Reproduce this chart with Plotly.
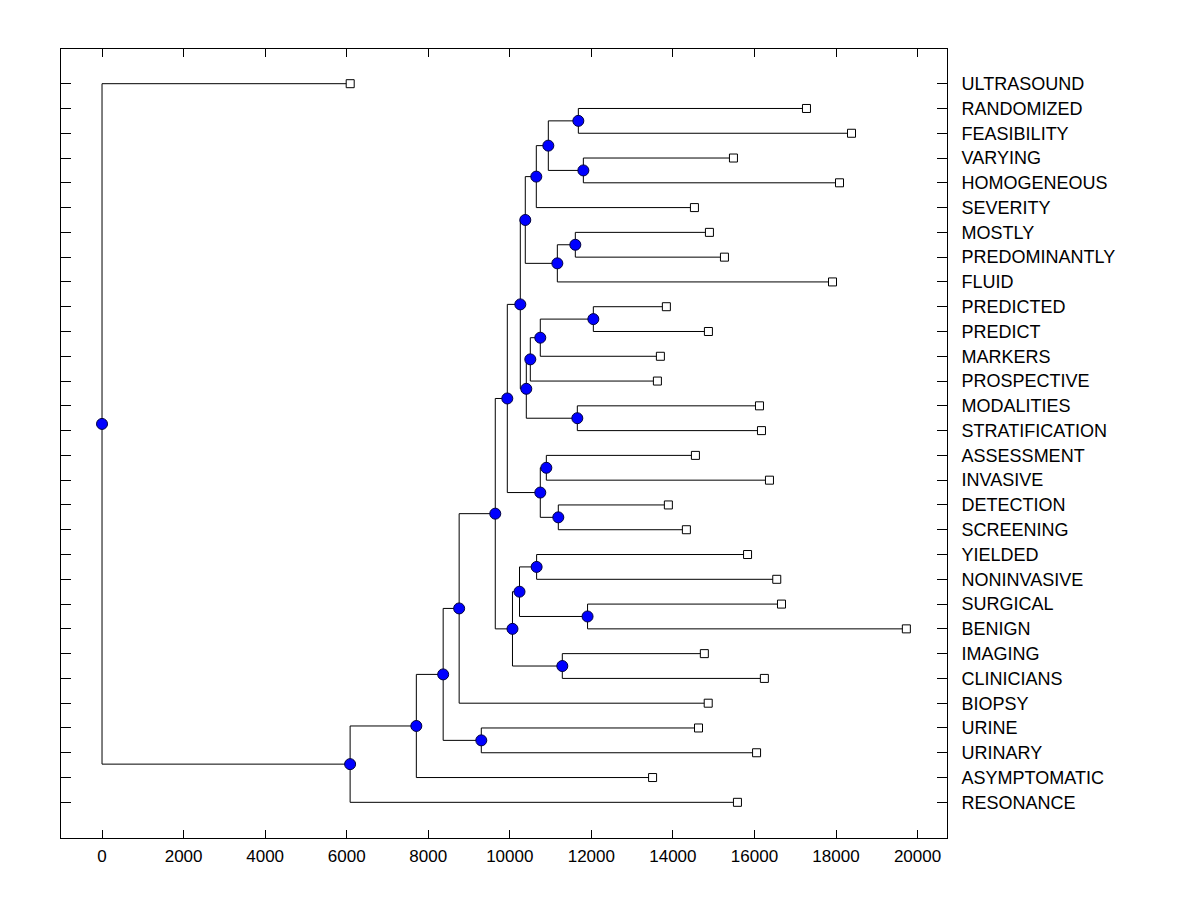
import plotly.graph_objects as go

# Leaves, top to bottom
leaf_labels = ["ULTRASOUND", "RANDOMIZED", "FEASIBILITY", "VARYING", "HOMOGENEOUS",
               "SEVERITY", "MOSTLY", "PREDOMINANTLY", "FLUID", "PREDICTED",
               "PREDICT", "MARKERS", "PROSPECTIVE", "MODALITIES", "STRATIFICATION",
               "ASSESSMENT", "INVASIVE", "DETECTION", "SCREENING", "YIELDED",
               "NONINVASIVE", "SURGICAL", "BENIGN", "IMAGING", "CLINICIANS",
               "BIOPSY", "URINE", "URINARY", "ASYMPTOMATIC", "RESONANCE"]
leaf_heights = [6086, 17276, 18380, 15485, 18086,
                14528, 14896, 15264, 17914, 13840,
                14871, 13693, 13620, 16123, 16172,
                14552, 16368, 13889, 14331, 15831,
                16547, 16663, 19725, 14771, 16243,
                14866, 14628, 16052, 13502, 15583]

# Merges: node index = 30 + position in list
merge_left = [1, 3, 30, 32, 6, 34, 33, 9, 37, 38, 13, 39, 36, 15, 17, 43,
              42, 19, 21, 47, 23, 49, 46, 52, 26, 53, 55, 56, 0]
merge_right = [2, 4, 31, 5, 7, 8, 35, 10, 11, 12, 14, 40, 41, 16, 18, 44,
               45, 20, 22, 48, 24, 50, 51, 25, 27, 54, 28, 29, 57]
merge_heights = [11681, 11804, 10945, 10650, 11607, 11166, 10380, 12049, 10748,
                 10503, 11656, 10405, 10258, 10896, 11190, 10748, 9939, 10658,
                 11907, 10238, 11288, 10066, 9644, 8758, 9301, 8366, 7708, 6084, 0]

x_ticks = [0, 2000, 4000, 6000, 8000, 10000, 12000, 14000, 16000, 18000, 20000]
x_tick_labels = [str(v) for v in x_ticks]

n_leaf = len(leaf_labels)
pos_x = list(leaf_heights)
pos_y = list(range(n_leaf))
for a, b, h in zip(merge_left, merge_right, merge_heights):
    pos_x.append(h)
    pos_y.append((pos_y[a] + pos_y[b]) / 2)

lx, ly = [], []
for a, b, h in zip(merge_left, merge_right, merge_heights):
    lx += [pos_x[a], h, h, pos_x[b], None]
    ly += [pos_y[a], pos_y[a], pos_y[b], pos_y[b], None]

fig = go.Figure()
fig.add_trace(go.Scatter(x=lx, y=ly, mode="lines",
                         line=dict(color="black", width=1), hoverinfo="skip"))
fig.add_trace(go.Scatter(x=pos_x[:n_leaf], y=pos_y[:n_leaf], mode="markers",
                         marker=dict(symbol="square", size=8, color="white",
                                     line=dict(color="black", width=1)),
                         text=leaf_labels))
fig.add_trace(go.Scatter(x=pos_x[n_leaf:], y=pos_y[n_leaf:], mode="markers",
                         marker=dict(symbol="circle", size=11, color="#0000FF",
                                     line=dict(color="#000040", width=1))))

xfont = dict(family="Arial, Liberation Sans, sans-serif", size=17, color="black")
yfont = dict(family="Arial, Liberation Sans, sans-serif", size=18, color="black")
fig.update_layout(
    width=1200, height=900,
    margin=dict(l=61, r=253, t=49, b=62),
    paper_bgcolor="white", plot_bgcolor="white",
    showlegend=False,
    font=xfont,
    xaxis=dict(range=[-1006, 20722], tickvals=x_ticks, ticktext=x_tick_labels,
               ticks="inside", ticklen=8, ticklabelstandoff=3,
               tickcolor="black", showline=True, linecolor="black", linewidth=1,
               mirror="ticks", showgrid=False, zeroline=False, tickfont=xfont),
    yaxis=dict(range=[30.44, -1.40], tickvals=list(range(n_leaf)), ticktext=leaf_labels,
               side="right", ticks="inside", ticklen=10, tickcolor="black",
               ticklabelstandoff=10,
               showline=True, linecolor="black", linewidth=1, mirror="ticks",
               showgrid=False, zeroline=False, tickfont=yfont),
)

fig.write_html("out.html", config={"displayModeBar": False},
               post_script="document.body.style.margin='0';")
